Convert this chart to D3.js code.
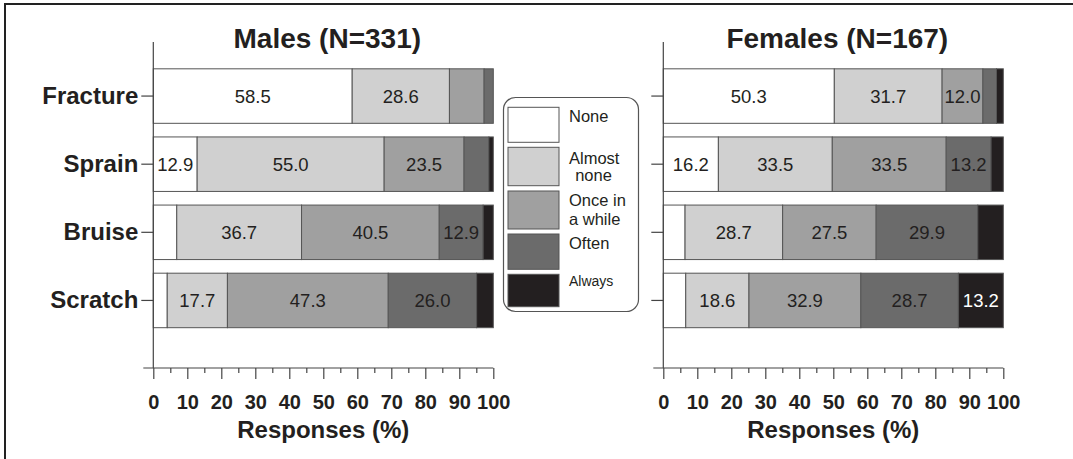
<!DOCTYPE html>
<html>
<head>
<meta charset="utf-8">
<script src="https://cdn.jsdelivr.net/npm/d3@7"></script>
<style>
  body { margin: 0; background: #fff; }
  svg { display: block; font-family: 'Liberation Sans', Arial, sans-serif; }
</style>
</head>
<body>
<div id="chart"></div>
<script>
const categories = ['Fracture', 'Sprain', 'Bruise', 'Scratch'];
const responses = ['None', 'Almost none', 'Once in a while', 'Often', 'Always'];
const legendLines = [['None'], ['Almost', 'none'], ['Once in', 'a while'], ['Often'], ['Always']];
const colors = ['#ffffff', '#d0d0d0', '#a0a0a0', '#6b6b6b', '#231f20'];

// percent per response level, one row per category
const maleValues = [
    [58.5, 28.6, 10.2, 2.7, 0],
    [12.9, 55.0, 23.5, 7.3, 1.3],
    [6.9, 36.7, 40.5, 12.9, 3.0],
    [4.1, 17.7, 47.3, 26.0, 4.9]
];
const femaleValues = [
    [50.3, 31.7, 12.0, 4.0, 2.0],
    [16.2, 33.5, 33.5, 13.2, 3.6],
    [6.4, 28.7, 27.5, 29.9, 7.5],
    [6.6, 18.6, 32.9, 28.7, 13.2]
];
const xTicks = d3.range(0, 101, 5);

const width = 1073;
const height = 459;
const ink = '#231f20';

const svg = d3.select('#chart').append('svg')
    .attr('width', width)
    .attr('height', height);

// frame (only left and top edges are visible in the original crop)
svg.append('rect')
    .attr('x', 5).attr('y', 4)
    .attr('width', 1200).attr('height', 600)
    .attr('fill', 'none')
    .attr('stroke', '#222')
    .attr('stroke-width', 2);

const yScale = d3.scaleBand()
    .domain(categories)
    .range([62, 334.5])
    .paddingInner(0.2)
    .paddingOuter(0.1);

const axisY = 368;

function drawPanel(left, title, values, showNames) {
    const xScale = d3.scaleLinear().domain([0, 100]).range([left, left + 340]);
    const g = svg.append('g');

    g.append('text')
        .attr('x', (xScale(0) + xScale(100)) / 2 + 4)
        .attr('y', 47.5)
        .attr('text-anchor', 'middle')
        .attr('font-size', 28)
        .attr('font-weight', 'bold')
        .attr('fill', ink)
        .text(title);

    // stacked bars
    values.forEach((row, i) => {
        const cat = categories[i];
        let start = 0;
        row.forEach((v, j) => {
            if (v > 0) {
                g.append('rect')
                    .attr('x', xScale(start))
                    .attr('y', yScale(cat))
                    .attr('width', xScale(start + v) - xScale(start))
                    .attr('height', yScale.bandwidth())
                    .attr('fill', colors[j])
                    .attr('stroke', '#555')
                    .attr('stroke-width', 1);
            }
            if (v >= 11) {
                g.append('text')
                    .attr('x', xScale(start + v / 2))
                    .attr('y', yScale(cat) + yScale.bandwidth() / 2)
                    .attr('dy', '0.35em')
                    .attr('text-anchor', 'middle')
                    .attr('font-size', 18.5)
                    .attr('fill', j === 4 ? '#fff' : ink)
                    .text(v.toFixed(1));
            }
            start += v;
        });
    });

    // y axis
    const yAxis = g.append('g')
        .attr('transform', `translate(${xScale(0)},0)`)
        .call(d3.axisLeft(yScale).tickSize(12).tickPadding(3).tickFormat(d => showNames ? d : ''));
    yAxis.select('.domain').remove();
    yAxis.selectAll('line').attr('stroke', '#444').attr('stroke-width', 1.2);
    yAxis.selectAll('text')
        .attr('font-size', 24)
        .attr('font-weight', 'bold')
        .attr('font-family', "'Liberation Sans', Arial, sans-serif")
        .attr('fill', ink);
    g.append('line')
        .attr('x1', xScale(0)).attr('x2', xScale(0))
        .attr('y1', 42).attr('y2', axisY)
        .attr('stroke', '#444').attr('stroke-width', 1.2);

    // x axis
    const xAxis = g.append('g')
        .attr('transform', `translate(0,${axisY})`)
        .call(d3.axisBottom(xScale)
            .tickValues(xTicks)
            .tickSize(11)
            .tickSizeOuter(0)
            .tickPadding(16)
            .tickFormat(d => d % 10 === 0 ? d : ''));
    xAxis.select('.domain').remove();
    xAxis.selectAll('.tick line')
        .attr('y2', d => d % 10 === 0 ? 11 : 5)
        .attr('stroke', '#444').attr('stroke-width', 1.2);
    xAxis.selectAll('text')
        .attr('font-size', 20)
        .attr('font-weight', 'bold')
        .attr('font-family', "'Liberation Sans', Arial, sans-serif")
        .attr('fill', ink);
    g.append('line')
        .attr('x1', xScale(0) - 10).attr('x2', xScale(100))
        .attr('y1', axisY).attr('y2', axisY)
        .attr('stroke', '#444').attr('stroke-width', 1.2);

    g.append('text')
        .attr('x', (xScale(0) + xScale(100)) / 2)
        .attr('y', 438)
        .attr('text-anchor', 'middle')
        .attr('font-size', 24)
        .attr('font-weight', 'bold')
        .attr('fill', ink)
        .text('Responses (%)');
}

drawPanel(153.3, 'Males (N=331)', maleValues, true);
drawPanel(663.3, 'Females (N=167)', femaleValues, false);

// legend
const legend = svg.append('g');
legend.append('rect')
    .attr('x', 503.5).attr('y', 97.5)
    .attr('width', 135).attr('height', 214)
    .attr('rx', 12)
    .attr('fill', '#fff')
    .attr('stroke', '#555')
    .attr('stroke-width', 1.2);

const swatchTops = [107.3, 147.3, 191, 234, 274.3];
const swatchBottoms = [142.3, 185.7, 229, 269.3, 306.7];
const textBaselines = [[121.7], [163.5, 180.5], [205.5, 224.5], [249], [286]];

responses.forEach((r, i) => {
    legend.append('rect')
        .attr('x', 508).attr('y', swatchTops[i])
        .attr('width', 51).attr('height', swatchBottoms[i] - swatchTops[i])
        .attr('fill', colors[i])
        .attr('stroke', '#555')
        .attr('stroke-width', 1);
    legendLines[i].forEach((line, k) => {
        const centred = i === 1 && k === 1;
        legend.append('text')
            .attr('x', centred ? 593.5 : 569)
            .attr('y', textBaselines[i][k])
            .attr('text-anchor', centred ? 'middle' : 'start')
            .attr('font-size', i === 4 ? 14 : 16.5)
            .attr('fill', ink)
            .text(line);
    });
});
</script>
</body>
</html>
